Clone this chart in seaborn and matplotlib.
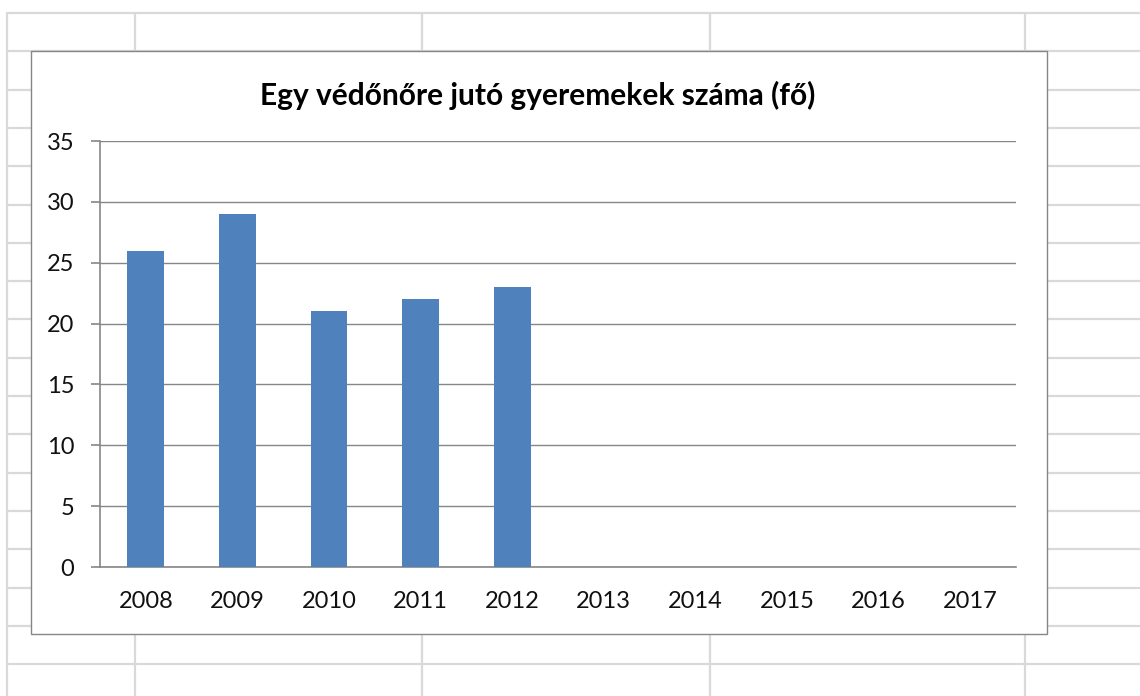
import numpy as np
import pandas as pd
import matplotlib.pyplot as plt
import matplotlib.patches as mpatches
import seaborn as sns

# adatok
evek = ['2008', '2009', '2010', '2011', '2012', '2013', '2014', '2015', '2016', '2017']
gyerekek = [26, 29, 21, 22, 23, np.nan, np.nan, np.nan, np.nan, np.nan]
cim = 'Egy védőnőre jutó gyeremekek száma (fő)'

df = pd.DataFrame({'ev': evek, 'gyerek': gyerekek})

sns.set_style('white')
plt.rcParams['font.family'] = ['Lato', 'DejaVu Sans']

W, H = 1140, 696
fig = plt.figure(figsize=(W / 100, H / 100), dpi=100)

# háttér: táblázat rácsa
hatter = fig.add_axes([0, 0, 1, 1], zorder=0)
hatter.set_xlim(0, W)
hatter.set_ylim(H, 0)
hatter.axis('off')
racs_szin = '#d9d9d9'
for y in np.arange(13, H, 38.3):
    hatter.plot([7, W], [y, y], color=racs_szin, lw=1.6)
for x in [7, 135, 422, 710, 1025]:
    hatter.plot([x, x], [13, H], color=racs_szin, lw=1.6)

# diagram doboz
hatter.add_patch(mpatches.Rectangle((31, 51), 1047 - 31, 634 - 51,
                                    facecolor='white', edgecolor='#868686', lw=1.0, zorder=3))
hatter.text(538, 95, cim, ha='center', va='center',
            fontsize=21.5, fontweight='bold', color='black', zorder=4)

ax = fig.add_axes([100 / W, (H - 567) / H, (1016 - 100) / W, (567 - 141) / H], zorder=2)
ax.patch.set_alpha(0)

sns.barplot(data=df, x='ev', y='gyerek', order=evek, color='#4f81bd',
            width=0.4, saturation=1, ax=ax, zorder=3, linewidth=0)

ax.set_xlim(-0.5, len(evek) - 0.5)
ax.set_ylim(0, 35)
ax.set_yticks(range(0, 36, 5))
ax.yaxis.grid(True, color='#868686', lw=1.0)
ax.set_axisbelow(True)
ax.set_xlabel('')
ax.set_ylabel('')

for s in ['top', 'right']:
    ax.spines[s].set_visible(False)
for s in ['left', 'bottom']:
    ax.spines[s].set_color('#868686')
    ax.spines[s].set_linewidth(1.2)

ax.set_xticks(np.arange(len(evek)))
ax.set_xticks(np.arange(-0.5, len(evek), 1.0), minor=True)
ax.tick_params(axis='x', which='major', length=0, pad=17, labelsize=17, labelcolor='#111111')
ax.tick_params(axis='x', which='minor', length=6, width=1.2, color='#868686', direction='out')
ax.tick_params(axis='y', length=6.5, width=1.2, color='#868686', pad=12, labelsize=17,
               labelcolor='#111111', left=True, direction='out')

fig.savefig('out.png', dpi=100)
